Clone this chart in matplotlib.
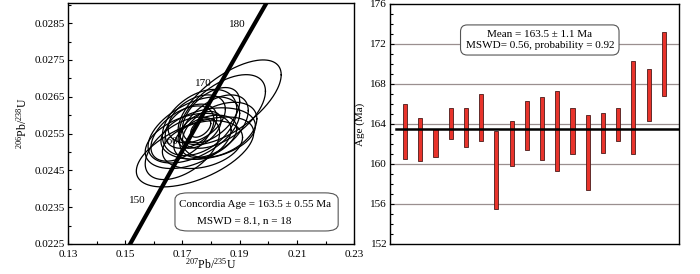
import numpy as np
import matplotlib
matplotlib.use("Agg")
import matplotlib.pyplot as plt
from matplotlib.ticker import MultipleLocator
from matplotlib.patches import FancyBboxPatch

plt.rcParams['font.family'] = ['Liberation Serif', 'DejaVu Serif']
plt.rcParams['mathtext.fontset'] = 'custom'
plt.rcParams['mathtext.rm'] = 'Liberation Serif'

# concordia ellipses: centre, 2-sigma half widths, correlation
ell_x = [0.1744, 0.1865, 0.1840, 0.1740, 0.1760, 0.1720, 0.1790, 0.1764, 0.1760,
         0.1700, 0.1810, 0.1770, 0.1750, 0.1800, 0.1730, 0.1780, 0.1830, 0.1700]
ell_y = [0.02500, 0.02635, 0.02610, 0.02560, 0.02580, 0.02530, 0.02550, 0.02565, 0.02560,
         0.02550, 0.02570, 0.02520, 0.02590, 0.02600, 0.02570, 0.02540, 0.02560, 0.02510]
ell_a = [0.0205, 0.0180, 0.0150, 0.0160, 0.0130, 0.0150, 0.0165, 0.0035, 0.0075,
         0.0110, 0.0120, 0.0140, 0.0100, 0.0100, 0.0090, 0.0110, 0.0130, 0.0130]
ell_b = [0.00095, 0.00115, 0.00100, 0.00090, 0.00090, 0.00075, 0.00070, 0.00025, 0.00050,
         0.00075, 0.00085, 0.00065, 0.00065, 0.00075, 0.00060, 0.00060, 0.00075, 0.00085]
ell_rho = [0.55, 0.65, 0.55, 0.50, 0.40, 0.40, 0.30, 0.50, 0.50,
           0.50, 0.50, 0.30, 0.40, 0.50, 0.40, 0.40, 0.40, 0.50]
concordia_marks = [150, 160, 170, 180]

# weighted mean plot: bar tops and bottoms (Ma)
bar_top = [165.95, 164.62, 163.52, 165.55, 165.55, 166.99, 163.28, 164.32, 166.25,
           166.72, 167.32, 165.62, 164.89, 165.12, 165.62, 170.33, 169.49, 173.16]
bar_bot = [160.45, 160.28, 160.71, 162.52, 161.68, 162.25, 155.54, 159.78, 161.35,
           160.35, 159.28, 161.01, 157.44, 161.11, 162.31, 160.95, 164.32, 166.75]
mean_age = 163.5

L238 = 1.55125e-10
L235 = 9.8485e-10

def concordia(t_ma):
    t = np.asarray(t_ma) * 1e6
    return np.exp(L235 * t) - 1, np.exp(L238 * t) - 1

fig = plt.figure(figsize=(7, 2.74), dpi=100)
ax1 = fig.add_axes([0.097, 0.1095, 0.409, 0.880])
ax2 = fig.add_axes([0.557, 0.1095, 0.413, 0.876])

# ---- left: concordia diagram
th = np.linspace(0, 2 * np.pi, 200)
for cx, cy, a, b, r in zip(ell_x, ell_y, ell_a, ell_b, ell_rho):
    ex = cx + a * np.cos(th)
    ey = cy + b * (r * np.cos(th) + np.sqrt(1 - r * r) * np.sin(th))
    ax1.plot(ex, ey, color='black', lw=0.9, zorder=3)

tt = np.linspace(130, 200, 200)
cxs, cys = concordia(tt)
ax1.plot(cxs, cys, color='black', lw=3.0, zorder=5)
for m in concordia_marks:
    px, py = concordia(m)
    ax1.annotate(str(m), (px, py), xytext=(-10, 4), textcoords='offset points',
                 ha='center', va='center', fontsize=8, zorder=2)

ax1.set_xlim(0.13, 0.23)
ax1.set_ylim(0.0225, 0.02905)
ax1.set_xticks([0.13, 0.15, 0.17, 0.19, 0.21, 0.23])
ax1.set_xticklabels(['0.13', '0.15', '0.17', '0.19', '0.21', '0.23'])
ax1.xaxis.set_minor_locator(MultipleLocator(0.01))
ax1.set_yticks([0.0225, 0.0235, 0.0245, 0.0255, 0.0265, 0.0275, 0.0285])
ax1.set_yticklabels(['0.0225', '0.0235', '0.0245', '0.0255', '0.0265', '0.0275', '0.0285'])
ax1.yaxis.set_minor_locator(MultipleLocator(0.0005))
ax1.tick_params(which='both', direction='in', labelsize=8, width=0.8)
ax1.tick_params(axis='y', pad=2)
ax1.tick_params(axis='x', pad=4)
ax1.tick_params(which='major', length=3)
ax1.tick_params(which='minor', length=2)
ax1.tick_params(top=False, right=False, which='both')
ax1.set_xlabel(r'$\mathregular{^{207}Pb/^{235}U}$', fontsize=8.5, labelpad=-1)
ax1.set_ylabel(r'$\mathregular{^{206}Pb/^{238}U}$', fontsize=8.5, labelpad=4)
for s in ax1.spines.values():
    s.set_linewidth(1.0)
box = FancyBboxPatch((0.374, 0.054), 0.570, 0.158, transform=ax1.transAxes,
                     boxstyle='round,pad=0,rounding_size=0.045', fc='white',
                     ec='#555555', lw=0.8, zorder=6, mutation_aspect=0.6)
ax1.add_patch(box)
ax1.text(0.654, 0.162, 'Concordia Age = 163.5 \u00b1 0.55 Ma', transform=ax1.transAxes,
         fontsize=8, ha='center', va='center', zorder=7)
ax1.text(0.615, 0.098, 'MSWD = 8.1, n = 18', transform=ax1.transAxes,
         fontsize=8, ha='center', va='center', zorder=7)

# ---- right: weighted mean
n = np.arange(1, len(bar_top) + 1)
for y in [156, 160, 164, 168, 172]:
    ax2.axhline(y, color='#9a8f8f', lw=0.9, zorder=0)
heights = np.array(bar_top) - np.array(bar_bot)
ax2.bar(n, heights, bottom=bar_bot, width=0.27, color='#e8332b',
        edgecolor='#4a1a1a', linewidth=0.6, zorder=3)
ax2.plot([0.4, 18.95], [mean_age, mean_age], color='black', lw=1.8, zorder=4)
ax2.set_xlim(0, 19)
ax2.set_ylim(152, 176)
ax2.set_yticks(range(152, 177, 4))
ax2.yaxis.set_minor_locator(MultipleLocator(1))
ax2.set_xticks([])
ax2.tick_params(which='both', direction='in', labelsize=8, width=0.8, right=False, pad=2)
ax2.tick_params(which='major', length=3)
ax2.tick_params(which='minor', length=2)
ax2.set_ylabel('Age (Ma)', fontsize=8, labelpad=4)
for s in ax2.spines.values():
    s.set_linewidth(1.0)
ax2.text(9.85, 172.4, 'Mean = 163.5 \u00b1 1.1 Ma\nMSWD= 0.56, probability = 0.92',
         fontsize=8, ha='center', va='center', linespacing=1.3,
         bbox=dict(boxstyle='round,pad=0.45,rounding_size=0.6', fc='white', ec='#555555', lw=0.8))

fig.savefig('out.png', dpi=100)
